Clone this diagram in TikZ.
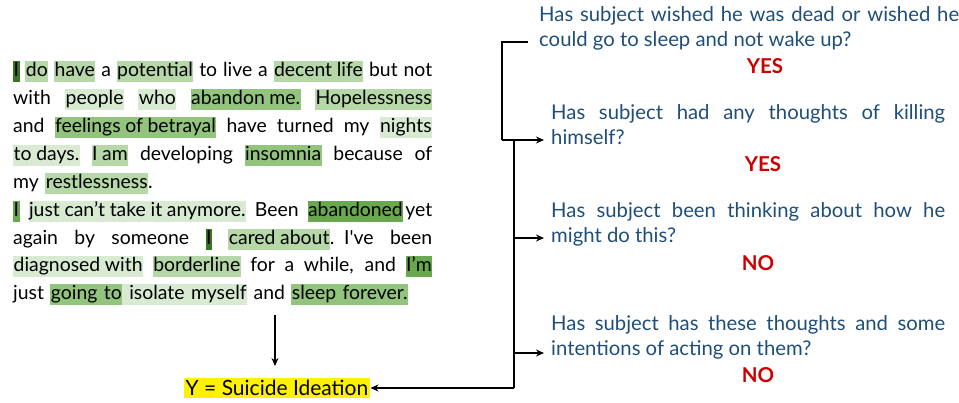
\documentclass[tikz,border=0pt]{standalone}
\usepackage{fontspec}
\setmainfont{Lato}
\usetikzlibrary{arrows.meta,positioning}
\definecolor{hlone}{HTML}{38761D}
\definecolor{hltwo}{HTML}{6AA84F}
\definecolor{hlthree}{HTML}{93C47D}
\definecolor{hlfour}{HTML}{B6D7A8}
\definecolor{hlfive}{HTML}{D9EAD3}
\definecolor{qblue}{HTML}{1F4E79}
\definecolor{ansred}{HTML}{CC0000}
\newcommand{\hlword}[2]{{\setlength{\fboxsep}{0pt}\colorbox{#1}{\rule[-5.5pt]{0pt}{21pt}\kern0.5pt#2\kern0.5pt}}}
\newcommand{\jline}[1]{\leavevmode{\spaceskip=0.24em plus 0.8em minus 0.07em\hbox to 419pt{#1}}}
\tikzset{
	post/.style={anchor=north west,inner sep=0,text width=419pt,align=left,font=\fontsize{19.4}{27.9}\selectfont},
	question/.style={anchor=north west,inner sep=0,text width=#1,align=justify,text=qblue,font=\fontsize{20.3}{25}\selectfont},
	answer/.style={text=ansred,inner sep=0,font=\fontsize{20.5}{20}\selectfont\bfseries},
	ylabel/.style={fill=yellow,inner sep=2pt,font=\fontsize{21}{22}\selectfont},
	edge/.style={color=black,line width=1.4pt},
	diredge/.style={-{Stealth[width=7pt,length=8pt]},color=black,line width=1.4pt}
}
\begin{document}
\begin{tikzpicture}[x=1pt,y=-1pt]
	\useasboundingbox (0,0) rectangle (959,403);
	%%% post
	\node[post] (post) at (13,61) {%
		\jline{\hlword{hlone}{I} \hlword{hlfour}{do} \hlword{hlfour}{have} a \hlword{hlfour}{potential} to live a \hlword{hlfour}{decent life} but not}\\
		\jline{with \hlword{hlfive}{people} \hlword{hlfive}{who} \hlword{hlthree}{abandon me.} \hlword{hlfour}{Hopelessness}}\\
		\jline{and \hlword{hlthree}{feelings of betrayal} have turned my \hlword{hlfive}{nights}}\\
		\jline{\hlword{hlfive}{to days.} \hlword{hlfour}{I am} developing \hlword{hlthree}{insomnia} because of}\\
		my \hlword{hlfour}{restlessness}.\\
		\jline{\hlword{hltwo}{I} \hlword{hlfive}{just can’t take it anymore.} Been \hlword{hltwo}{abandoned}\kern2pt yet}\\
		\jline{again by someone \hlword{hlone}{I} \hlword{hlfour}{cared about}. I\textquotesingle ve been}\\
		\jline{\hlword{hlfive}{diagnosed with} \hlword{hlfour}{borderline} for a while, and \hlword{hltwo}{I’m}}\\
		just \hlword{hlthree}{going to}\hlword{hlfive}{\ isolate myself} and \hlword{hlthree}{sleep forever.}};
	\node[ylabel] (y) at (277,388) {Y = Suicide Ideation};
	
	%%% questions
	\node[question=420pt] (q1) at (539,6) {Has subject wished he was dead or wished he\linebreak could go to sleep and not wake up?};
	\node[answer] (a1) at (765,66) {YES};
	\node[question=394pt] (q2) at (551,104) {Has subject had any thoughts of killing\linebreak himself?};
	\node[answer] (a2) at (763,164) {YES};
	\node[question=394pt] (q3) at (551,202) {Has subject been thinking about how he\linebreak might do this?};
	\node[answer] (a3) at (758,263) {NO};
	\node[question=394pt] (q4) at (551,315) {Has subject has these thoughts and some\linebreak intentions of acting on them?};
	\node[answer] (a4) at (758,375) {NO};
	
	\coordinate (q1out) at (528,42);
	\coordinate (q2in) at (544,140);
	\coordinate (q3in) at (544,238);
	\coordinate (q4in) at (544,353);
	\coordinate (turn1) at (502,42);
	\coordinate (turn2) at (502,140);
	\coordinate (top) at (514,140);
	\coordinate (bot) at (514,388);
	\coordinate (down1) at (275,315);
	\coordinate (down2) at (275,366);
	
	\draw[edge] (q1out) -- (turn1) -- (turn2);
	\draw[diredge] (turn2) -- (q2in);
	\draw[edge] (top) -- (bot);
	\draw[diredge] (top |- q3in) -- (q3in);
	\draw[diredge] (top |- q4in) -- (q4in);
	\draw[diredge] (bot) -- (y);
	\draw[diredge] (down1) -- (down2);
\end{tikzpicture}
\end{document}
